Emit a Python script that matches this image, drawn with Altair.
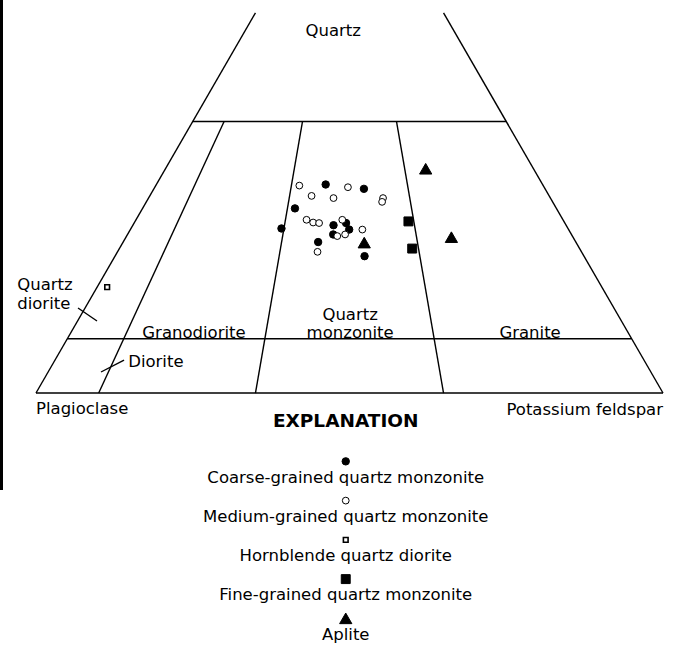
import math
import altair as alt
import pandas as pd

# Modal analyses, volume percent: quartz (Q), plagioclase (P), potassium feldspar (K)
coarse_q = [38.4, 37.6, 34.0, 30.3, 30.9, 31.3, 30.1, 29.2, 27.8, 25.2]
coarse_p = [34.6, 28.9, 41.7, 45.7, 37.1, 34.9, 35.0, 38.0, 41.1, 35.0]
coarse_k = [27.0, 33.5, 24.3, 24.0, 32.0, 33.8, 34.9, 32.8, 31.1, 39.8]

medium_q = [38.2, 36.3, 35.9, 37.9, 35.9, 35.2, 31.9, 31.4, 31.3, 31.9, 28.9, 29.2, 30.1, 26.0]
medium_p = [38.9, 37.9, 34.6, 31.3, 26.7, 27.2, 40.9, 40.1, 39.2, 35.2, 37.5, 36.1, 32.9, 42.1]
medium_k = [22.9, 25.8, 29.5, 30.8, 37.4, 37.6, 27.2, 28.5, 29.5, 32.9, 33.6, 34.7, 37.0, 31.9]

hornblende_q = [19.5]
hornblende_p = [78.9]
hornblende_k = [1.6]

fine_q = [31.6, 26.6]
fine_p = [24.8, 26.7]
fine_k = [43.6, 46.7]

aplite_q = [41.3, 28.7, 27.7]
aplite_p = [17.2, 19.4, 33.8]
aplite_k = [41.5, 51.9, 38.5]

ROCK_TYPES = [
    "Coarse-grained quartz monzonite",
    "Medium-grained quartz monzonite",
    "Hornblende quartz diorite",
    "Fine-grained quartz monzonite",
    "Aplite",
]

# Symbol style for each rock type
STYLES = {
    "Coarse-grained quartz monzonite": dict(shape="circle", fill="black", size=55, strokeWidth=1),
    "Medium-grained quartz monzonite": dict(shape="circle", fill="white", size=46, strokeWidth=1),
    "Hornblende quartz diorite": dict(shape="square", fill="white", size=22, strokeWidth=1.6),
    "Fine-grained quartz monzonite": dict(shape="square", fill="black", size=80, strokeWidth=1),
    "Aplite": dict(shape="triangle-up", fill="black", size=150, strokeWidth=1),
}

# Field boundaries: quartz levels and K/(P+K) ratios (percent)
QUARTZ_LEVELS = [10, 50]
QUARTZ_TOP = 70
K_RATIOS = [10, 35, 65]

H = math.sqrt(3) / 2


def to_xy(q, p, k):
    """Project a Q-P-K composition onto the equilateral triangle frame."""
    total = q + p + k
    qn, kn = 100 * q / total, 100 * k / total
    return kn + qn / 2, qn * H


# Sample table
groups = [
    (coarse_q, coarse_p, coarse_k),
    (medium_q, medium_p, medium_k),
    (hornblende_q, hornblende_p, hornblende_k),
    (fine_q, fine_p, fine_k),
    (aplite_q, aplite_p, aplite_k),
]
rows = []
for name, (qs, ps, ks) in zip(ROCK_TYPES, groups):
    for q, p, k in zip(qs, ps, ks):
        x, y = to_xy(q, p, k)
        rows.append({"type": name, "x": x, "y": y, "Q": q, "P": p, "K": k})
samples = pd.DataFrame(rows)

# Boundary segments of the classification diagram
segs = []


def seg(a, b):
    x1, y1 = to_xy(*a)
    x2, y2 = to_xy(*b)
    segs.append({"x": x1, "y": y1, "x2": x2, "y2": y2})


seg((0, 100, 0), (0, 0, 100))                       # base P-K
seg((0, 100, 0), (QUARTZ_TOP, 100 - QUARTZ_TOP, 0))  # P-Q side
seg((0, 0, 100), (QUARTZ_TOP, 0, 100 - QUARTZ_TOP))  # K-Q side
for q in QUARTZ_LEVELS:
    seg((q, 100 - q, 0), (q, 0, 100 - q))
for r in K_RATIOS:
    f = r / 100
    seg((0, 100 * (1 - f), 100 * f), (50, 50 * (1 - f), 50 * f))
# leader lines for the small field names
leaders = pd.DataFrame([
    {"x": 6.70, "y": 13.56, "x2": 9.73, "y2": 11.48},
    {"x": 10.37, "y": 3.35, "x2": 14.04, "y2": 5.26},
])
boundaries = pd.concat([pd.DataFrame(segs), leaders], ignore_index=True)

# Field and corner names
labels = pd.DataFrame([
    {"text": "Quartz", "x": 47.4, "y": 57.7, "align": "center"},
    {"text": "Quartz", "x": -3.0, "y": 17.2, "align": "left"},
    {"text": "diorite", "x": -3.0, "y": 14.2, "align": "left"},
    {"text": "Granodiorite", "x": 25.2, "y": 9.6, "align": "center"},
    {"text": "Diorite", "x": 14.7, "y": 4.9, "align": "left"},
    {"text": "Quartz", "x": 50.1, "y": 12.4, "align": "center"},
    {"text": "monzonite", "x": 50.1, "y": 9.6, "align": "center"},
    {"text": "Granite", "x": 78.8, "y": 9.6, "align": "center"},
    {"text": "Plagioclase", "x": 0.0, "y": -2.6, "align": "left"},
    {"text": "Potassium feldspar", "x": 100.0, "y": -2.7, "align": "right"},
])

# Explanation block under the diagram
LEGEND_X = 49.4
LEGEND_TOP = -10.9
LEGEND_STEP = 6.26
LABEL_GAP = 2.6
legend = pd.DataFrame([
    {"type": t, "x": LEGEND_X, "y": LEGEND_TOP - i * LEGEND_STEP,
     "ly": LEGEND_TOP - i * LEGEND_STEP - LABEL_GAP}
    for i, t in enumerate(ROCK_TYPES)
])

XS = alt.Scale(domain=[-5.742, 101.914], nice=False, zero=False)
YS = alt.Scale(domain=[-40.19, 62.68], nice=False, zero=False)
X = alt.X("x:Q", scale=XS, axis=None)
Y = alt.Y("y:Q", scale=YS, axis=None)

FONT = "DejaVu Sans"
FS = 16.5

lines = alt.Chart(boundaries).mark_rule(color="black", strokeWidth=1.4).encode(
    x=X, y=Y, x2="x2:Q", y2="y2:Q"
)

# one symbol layer per rock type, for the diagram and for the explanation
symbol_layers = []
for t in ROCK_TYPES:
    st = STYLES[t]
    mk = dict(shape=st["shape"], size=st["size"], filled=True, fill=st["fill"],
              stroke="black", strokeWidth=st["strokeWidth"], opacity=1)
    symbol_layers.append(
        alt.Chart(samples[samples["type"] == t]).mark_point(**mk).encode(
            x=X, y=Y, tooltip=["type:N", "Q:Q", "P:Q", "K:Q"]
        )
    )
    symbol_layers.append(
        alt.Chart(legend[legend["type"] == t]).mark_point(**mk).encode(x=X, y=Y)
    )

text_layers = []
for a in ["left", "center", "right"]:
    text_layers.append(
        alt.Chart(labels[labels["align"] == a]).mark_text(
            align=a, baseline="middle", font=FONT, fontSize=FS, color="black"
        ).encode(x=X, y=Y, text="text:N")
    )

title = alt.Chart(pd.DataFrame([{"text": "EXPLANATION", "x": LEGEND_X, "y": -4.47}])).mark_text(
    align="center", baseline="middle", font=FONT, fontSize=18.5, fontWeight="bold", color="black"
).encode(x=X, y=Y, text="text:N")

legend_text = alt.Chart(legend).mark_text(
    align="center", baseline="middle", font=FONT, fontSize=FS, color="black"
).encode(x=X, y=alt.Y("ly:Q", scale=YS, axis=None), text="type:N")

# dark edge along the left margin of the page
edge = alt.Chart(pd.DataFrame([{"k": 0}])).mark_rule(color="black", strokeWidth=3).encode(
    x=alt.value(1.5), y=alt.value(0), y2=alt.value(490)
)

chart = alt.layer(
    edge, lines, *symbol_layers, *text_layers, title, legend_text
).properties(
    width=675, height=645, padding=0, autosize="none", background="white"
).configure_view(stroke=None)

chart.save("out.html", embed_options={"renderer": "svg", "actions": False})
